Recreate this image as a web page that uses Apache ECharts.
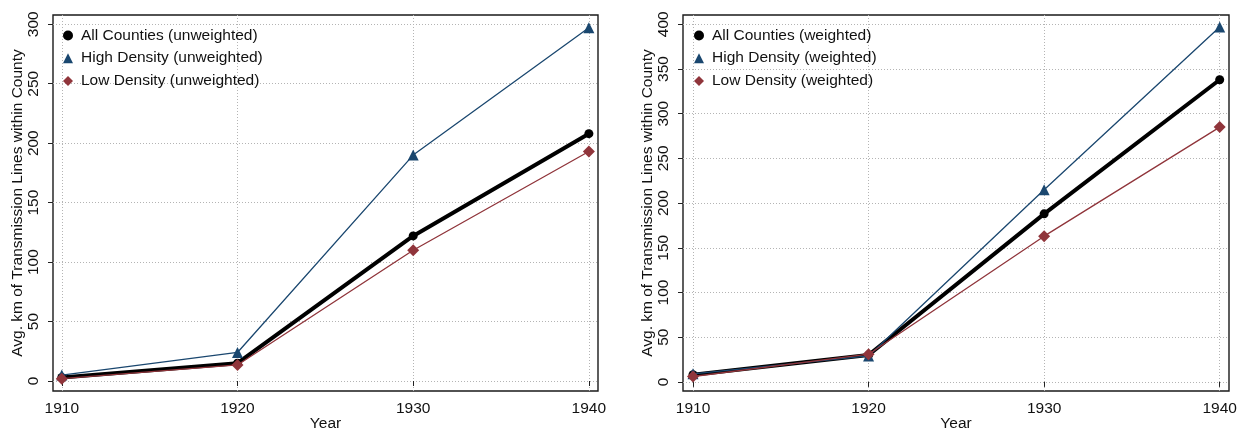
<!DOCTYPE html>
<html>
<head>
<meta charset="utf-8">
<script src="https://cdn.jsdelivr.net/npm/echarts@6/dist/echarts.min.js"></script>
<style>html,body{margin:0;padding:0;background:#fff}#c{width:1238px;height:430px}</style>
</head>
<body>
<div id="c"></div>
<script>
const years = [1910, 1920, 1930, 1940];
const leftYTicks = [0, 50, 100, 150, 200, 250, 300];
const rightYTicks = [0, 50, 100, 150, 200, 250, 300, 350, 400];

const allUnweighted  = [3, 15, 122, 208];
const highUnweighted = [5, 24, 190, 297];
const lowUnweighted  = [2, 13.5, 110, 193];

const allWeighted  = [8, 30, 188, 338];
const highWeighted = [9, 29, 215, 397];
const lowWeighted  = [6, 31, 163, 285];

const namesLeft = ['All Counties (unweighted)', 'High Density (unweighted)', 'Low Density (unweighted)'];
const namesRight = ['All Counties (weighted)', 'High Density (weighted)', 'Low Density (weighted)'];
const yTitle = 'Avg. km of Transmission Lines within County';
const xTitle = 'Year';

const FONT = '"Liberation Sans", Arial, Helvetica, sans-serif';
const FS = 15.5;
const TXT = '#111';
const BLACK = '#000000', NAVY = '#1a476f', MAROON = '#90353b';
const grid = '#b4b4b4';

function pairs(vals){ return years.map((y,i)=>[y, vals[i]]); }

function xAxis(gi){
  return {
    type:'value', gridIndex:gi, min:1909.5, max:1940.52,
    name:xTitle, nameLocation:'middle', nameGap:25, nameMoveOverlap:false,
    nameTextStyle:{fontFamily:FONT, fontSize:FS, color:TXT},
    axisLine:{show:false},
    axisTick:{show:true, inside:false, length:5, customValues:years, lineStyle:{color:'#222', width:1}},
    axisLabel:{customValues:years, fontFamily:FONT, fontSize:FS, color:TXT, margin:10, formatter:v=>String(v)},
    splitLine:{show:true, lineStyle:{color:grid, type:[1,2], width:1}}
  };
}
function yAxis(gi, ticks, min, max){
  return {
    type:'value', gridIndex:gi, min:min, max:max,
    name:yTitle, nameLocation:'middle', nameGap:27, nameRotate:90, nameMoveOverlap:false,
    nameTextStyle:{fontFamily:FONT, fontSize:FS, color:TXT},
    axisLine:{show:false},
    axisTick:{show:true, inside:false, length:5, customValues:ticks, lineStyle:{color:'#222', width:1}},
    axisLabel:{customValues:ticks, rotate:90, fontFamily:FONT, fontSize:FS, color:TXT, margin:11.5, formatter:v=>String(v)},
    splitLine:{show:true, lineStyle:{color:grid, type:[1,2], width:1}}
  };
}
function series(name, vals, gi, color, symbol, size, width, z){
  return {
    name:name, type:'line', xAxisIndex:gi, yAxisIndex:gi, data:pairs(vals),
    symbol:symbol, symbolSize:size, showAllSymbol:true,
    lineStyle:{color:color, width:width}, itemStyle:{color:color},
    emphasis:{disabled:true}, animation:false, z:z
  };
}
function legend(names, left){
  return {
    orient:'vertical', left:left, top:27.5, padding:0, itemGap:6.7,
    itemWidth:10, itemHeight:10, selectedMode:false, symbolKeepAspect:true,
    textStyle:{fontFamily:FONT, fontSize:FS, color:TXT, padding:[0,0,0,3]},
    data:[{name:names[0], icon:'circle'},
          {name:names[1], icon:'triangle'},
          {name:names[2], icon:'diamond'}]
  };
}

const chart = echarts.init(document.getElementById('c'), null, {renderer:'canvas'});
chart.setOption({
  animation:false,
  backgroundColor:'#fff',
  grid:[
    {left:53, top:15, width:545, height:376, show:true, borderColor:'#1a1a1a', borderWidth:1.4, containLabel:false, outerBoundsMode:'none'},
    {left:683, top:15, width:546, height:376, show:true, borderColor:'#1a1a1a', borderWidth:1.4, containLabel:false, outerBoundsMode:'none'}
  ],
  xAxis:[xAxis(0), Object.assign(xAxis(1), {min:1909.43, max:1940.53})],
  yAxis:[yAxis(0, leftYTicks, -8.4, 307.8), yAxis(1, rightYTicks, -10.2, 410.4)],
  legend:[legend(namesLeft, 63), legend(namesRight, 694)],
  series:[
    series(namesLeft[0], allUnweighted, 0, BLACK, 'circle', 9, 4, 2),
    series(namesLeft[1], highUnweighted, 0, NAVY, 'triangle', 11, 1.3, 3),
    series(namesLeft[2], lowUnweighted, 0, MAROON, 'diamond', 12, 1.3, 4),
    series(namesRight[0], allWeighted, 1, BLACK, 'circle', 9, 4, 2),
    series(namesRight[1], highWeighted, 1, NAVY, 'triangle', 11, 1.3, 3),
    series(namesRight[2], lowWeighted, 1, MAROON, 'diamond', 12, 1.3, 4)
  ]
});
</script>
</body>
</html>
